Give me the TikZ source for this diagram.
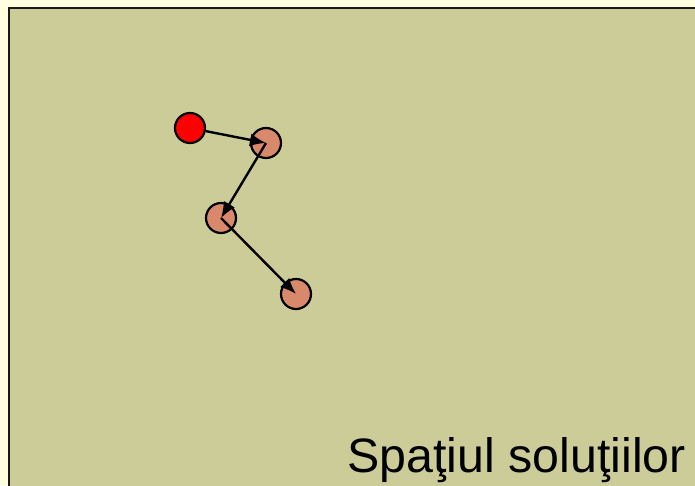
\documentclass[tikz,border=0pt]{standalone}
\usetikzlibrary{arrows.meta}
\usepackage{fontspec}
\setmainfont{Liberation Sans}
\begin{document}
\begin{tikzpicture}[x=1pt,y=-1pt,
  state/.style={circle,draw=black,line width=2.2pt,minimum size=30pt,inner sep=0pt,fill=salmonc},
  start/.style={state,fill=red},
  link/.style={line width=2.4pt,-{Latex[length=16pt,width=13pt]}}]
\definecolor{salmonc}{RGB}{217,137,107}
\definecolor{bgout}{RGB}{255,255,224}
\definecolor{panel}{RGB}{204,204,153}
\useasboundingbox (0,0) rectangle (695,485);
\fill[bgout] (0,0) rectangle (695,485);
\draw[fill=panel,line width=2.6pt,draw=black!90] (9,8) rectangle (705,495);
\node[start] (a) at (190,128) {};
\node[state] (b) at (266,143) {};
\node[state] (c) at (221,218) {};
\node[state] (d) at (296,294) {};
\draw[link] (a) -- (b.center);
\draw[link] (b.center) -- (c.center);
\draw[link] (c.center) -- (d.center);
\node[anchor=base east,font=\fontsize{48.3}{52}\selectfont,inner sep=0pt] (t) at (686,472) {Spaţiul soluţiilor};
\end{tikzpicture}
\end{document}
